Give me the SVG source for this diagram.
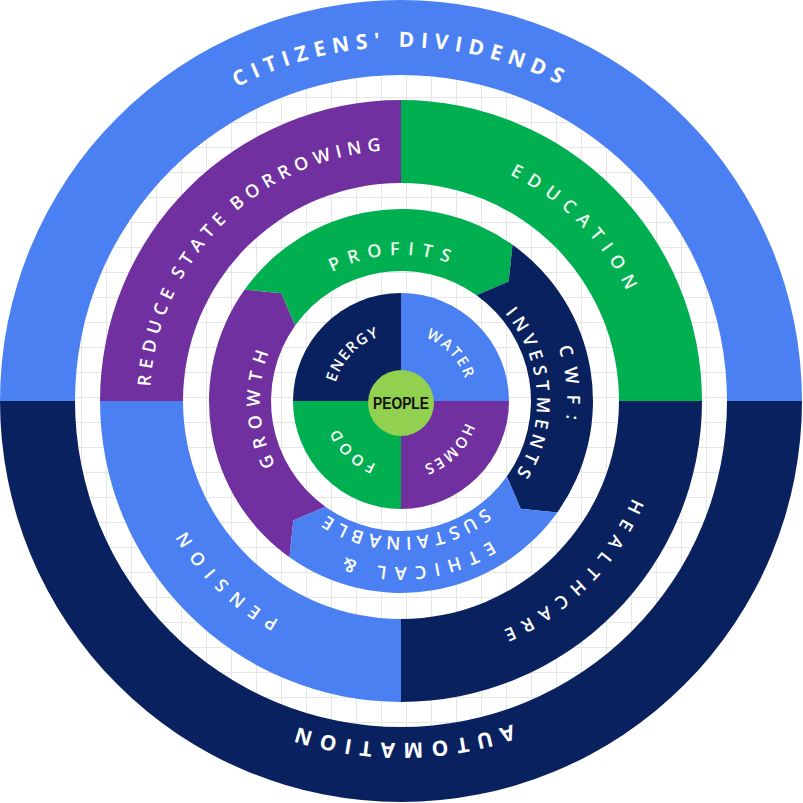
<svg xmlns="http://www.w3.org/2000/svg" width="803" height="803" viewBox="0 0 803 803">
<defs>
<style>
.lb{fill:#4A80F2}.nv{fill:#0A2160}.pu{fill:#7030A0}.gr{fill:#00B050}
.t{font-family:"Open Sans","Liberation Sans",sans-serif;fill:#fff;text-anchor:middle}
.big{font-size:21px;font-weight:700}
.mid{font-size:18px;font-weight:600}
.sm{font-size:15px;font-weight:600}
</style>
<pattern id="grid" x="6" y="22" width="25" height="25" patternUnits="userSpaceOnUse">
<path d="M0.5 0V25M0 0.5H25" stroke="#e6e6e6" stroke-width="1" fill="none"/>
</pattern>
<clipPath id="clip"><circle cx="401" cy="401" r="330"/></clipPath>
<path id="c354" d="M47 401A354 354 0 1 1 755 401A354 354 0 1 1 47 401"/>
<path id="c342" d="M59 401A342 342 0 1 1 743 401A342 342 0 1 1 59 401"/>
<path id="c251" d="M150 401A251 251 0 1 1 652 401A251 251 0 1 1 150 401"/>
<path id="c166" d="M235 401A166 166 0 1 1 567 401A166 166 0 1 1 235 401"/>
<path id="c146" d="M255 401A146 146 0 1 1 547 401A146 146 0 1 1 255 401"/>
<path id="c141" d="M260 401A141 141 0 1 1 542 401A141 141 0 1 1 260 401"/>
<path id="c136" d="M265 401A136 136 0 1 1 537 401A136 136 0 1 1 265 401"/>
<path id="c68" d="M333 401A68 68 0 1 1 469 401A68 68 0 1 1 333 401"/>
</defs>
<rect width="803" height="803" fill="#fff"/>
<rect width="803" height="803" fill="url(#grid)" clip-path="url(#clip)"/>

<g id="citizens-dividends">
<path class="lb" d="M0 401A401 401 0 0 1 802 401L727 401A326 326 0 0 0 75 401Z"/>
<text class="t big" transform="rotate(270 401 401)" letter-spacing="6.5"><textPath href="#c354" startOffset="50%">CITIZENS' DIVIDENDS</textPath></text>
</g>
<g id="automation">
<path class="nv" d="M802 401A401 401 0 0 1 0 401L75 401A326 326 0 0 0 727 401Z"/>
<text class="t big" transform="rotate(90 401 401)" letter-spacing="8"><textPath href="#c342" startOffset="50%">AUTOMATION</textPath></text>
</g>

<g id="reduce-state-borrowing">
<path class="pu" d="M100 401A301 301 0 0 1 401 100L401 183A218 218 0 0 0 183 401Z"/>
<text class="t mid" transform="rotate(225 401 401)" letter-spacing="5.8" word-spacing="-3"><textPath href="#c251" startOffset="50%">REDUCE STATE BORROWING</textPath></text>
</g>
<g id="education">
<path class="gr" d="M401 100A301 301 0 0 1 702 401L619 401A218 218 0 0 0 401 183Z"/>
<text class="t mid" transform="rotate(315.7 401 401)" letter-spacing="8" style="fill:#e8f8ec"><textPath href="#c251" startOffset="50%">EDUCATION</textPath></text>
</g>
<g id="healthcare">
<path class="nv" d="M702 401A301 301 0 0 1 401 702L401 619A218 218 0 0 0 619 401Z"/>
<text class="t mid" transform="rotate(45.3 401 401)" letter-spacing="8.4"><textPath href="#c251" startOffset="50%">HEALTHCARE</textPath></text>
</g>
<g id="pension">
<path class="lb" d="M401 702A301 301 0 0 1 100 401L183 401A218 218 0 0 0 401 619Z"/>
<text class="t mid" transform="rotate(135 401 401)" letter-spacing="8.7"><textPath href="#c251" startOffset="50%">PENSION</textPath></text>
</g>

<g id="growth">
<path class="pu" d="M289.5 557.3A192 192 0 0 1 244.7 289.5L281.4 293.3L295.2 325.5A130 130 0 0 0 325.5 506.8L293.3 520.6Z"/>
<text class="t mid" transform="rotate(178 401 401)" letter-spacing="7.4"><textPath href="#c141" startOffset="50%">GROWTH</textPath></text>
</g>
<g id="profits">
<path class="gr" d="M244.7 289.5A192 192 0 0 1 512.5 244.7L508.7 281.4L476.5 295.2A130 130 0 0 0 295.2 325.5L281.4 293.3Z"/>
<text class="t mid" transform="rotate(267 401 401)" letter-spacing="8" style="fill:#e8f8ec"><textPath href="#c146" startOffset="50%">PROFITS</textPath></text>
</g>
<g id="cwf-investments">
<path class="nv" d="M512.5 244.7A192 192 0 0 1 557.3 512.5L520.6 508.7L506.8 476.5A130 130 0 0 0 476.5 295.2L508.7 281.4Z"/>
<text class="t mid" transform="rotate(355.4 401 401)" letter-spacing="10"><textPath href="#c166" startOffset="50%">CWF:</textPath></text>
<text class="t mid" transform="rotate(357 401 401)" letter-spacing="5"><textPath href="#c136" startOffset="50%">INVESTMENTS</textPath></text>
</g>
<g id="ethical-sustainable">
<path class="lb" d="M557.3 512.5A192 192 0 0 1 289.5 557.3L293.3 520.6L325.5 506.8A130 130 0 0 0 506.8 476.5L520.6 508.7Z"/>
<text class="t mid" transform="rotate(84.8 401 401)" letter-spacing="7.7"><textPath href="#c166" startOffset="50%">ETHICAL &amp;</textPath></text>
<text class="t mid" transform="rotate(88.4 401 401)" letter-spacing="5"><textPath href="#c136" startOffset="50%">SUSTAINABLE</textPath></text>
</g>

<g id="energy">
<path class="nv" d="M401 401L293 401A108 108 0 0 1 401 293Z"/>
<text class="t sm" transform="rotate(224 401 401)" letter-spacing="1.5"><textPath href="#c68" startOffset="50%">ENERGY</textPath></text>
</g>
<g id="water">
<path class="lb" d="M401 401L401 293A108 108 0 0 1 509 401Z"/>
<text class="t sm" transform="rotate(316.7 401 401)" letter-spacing="2"><textPath href="#c68" startOffset="50%">WATER</textPath></text>
</g>
<g id="homes">
<path class="pu" d="M401 401L509 401A108 108 0 0 1 401 509Z"/>
<text class="t sm" transform="rotate(45.2 401 401)" letter-spacing="2"><textPath href="#c68" startOffset="50%">HOMES</textPath></text>
</g>
<g id="food">
<path class="gr" d="M401 401L401 509A108 108 0 0 1 293 401Z"/>
<text class="t sm" transform="rotate(135.3 401 401)" letter-spacing="3.5"><textPath href="#c68" startOffset="50%">FOOD</textPath></text>
</g>
<g id="people">
<circle cx="401" cy="403" r="33" fill="#92D050"/>
<text x="401" y="409" text-anchor="middle" font-family="Liberation Sans, sans-serif" font-weight="700" font-size="16" textLength="56" lengthAdjust="spacingAndGlyphs" fill="#111">PEOPLE</text>
</g>
<g id="connectors"/>
</svg>
